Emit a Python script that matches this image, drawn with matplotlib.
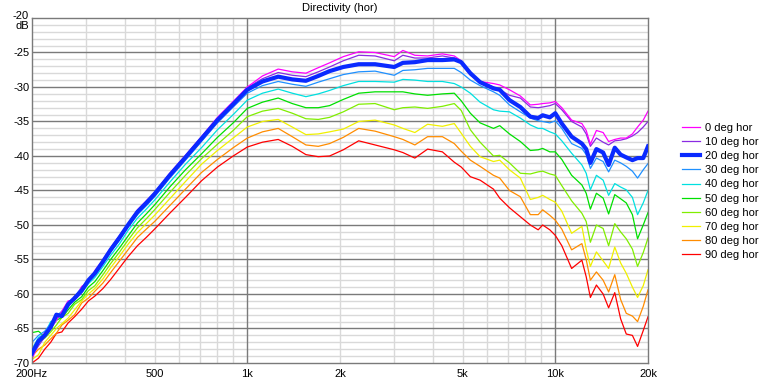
import matplotlib
matplotlib.use("Agg")
import matplotlib.pyplot as plt
from matplotlib.ticker import FixedLocator, NullLocator

plt.rcParams['font.family'] = ['Liberation Sans', 'DejaVu Sans']

freqs = [200, 210, 220, 230, 240, 250, 262, 275, 290, 305, 320, 340, 360, 385, 410, 440, 470, 500,
         560, 630, 710, 800, 900,
         1000, 1120, 1260, 1400, 1550, 1700, 1850, 2050, 2300, 2600, 3000, 3200, 3500, 3850, 4300, 4700,
         4950, 5300, 5700, 6300, 6600, 7100, 7700, 8300, 8800, 9100, 9600,
         10000, 10500, 11300, 12200, 12600, 13000, 13600, 14300, 14900, 15600, 16300, 17000, 17800,
         18500, 19300, 20000]

deg0 = [-69.5, -67.0, -65.6, -65.0, -63.8, -62.5, -61.0, -60.9, -58.9, -58.3, -56.6, -55.0, -53.3, -51.5, -49.8, -47.8, -46.5, -45.3,
        -42.5, -39.9, -37.2, -34.4, -32.1,
        -30.0, -28.4, -27.4, -27.8, -28.0, -27.2, -26.5, -25.6, -24.9, -25.0, -25.6, -24.7, -25.4, -25.5, -25.2, -25.5,
        -26.2, -28.0, -29.2, -29.5, -29.7, -30.4, -31.3, -32.6, -32.5, -32.4, -32.3,
        -32.1, -33.0, -34.8, -35.3, -36.3, -38.3, -36.3, -36.6, -37.9, -37.6, -37.4, -37.4, -36.8,
        -35.8, -34.8, -33.5]
deg10 = [-69.0, -67.5, -66.2, -64.5, -63.5, -62.8, -61.8, -60.3, -59.5, -57.9, -56.9, -55.1, -53.4, -51.6, -49.9, -47.9, -46.6, -45.4,
         -42.6, -40.0, -37.3, -34.6, -32.2,
         -30.1, -28.8, -27.9, -28.3, -28.5, -27.8, -27.1, -26.2, -25.4, -25.5, -26.2, -25.4, -25.8, -25.8, -25.5, -25.8,
         -26.6, -28.3, -29.2, -30.0, -30.4, -31.2, -31.6, -32.9, -33.0, -32.9, -32.7,
         -32.4, -33.3, -35.0, -35.8, -36.8, -38.6, -37.4, -38.0, -38.4, -37.8, -37.7, -37.5, -37.1,
         -36.6, -35.8, -35.0]
deg20 = [-68.6, -66.8, -66.0, -64.8, -63.0, -63.2, -61.5, -60.6, -59.5, -58.0, -57.0, -55.3, -53.6, -51.8, -50.0, -48.1, -46.8, -45.5,
         -42.8, -40.2, -37.5, -34.8, -32.5,
         -30.4, -29.2, -28.5, -28.9, -29.1, -28.4, -27.7, -27.1, -26.7, -26.7, -27.1, -26.5, -26.4, -26.1, -26.1, -26.0,
         -26.4, -28.0, -29.3, -30.2, -30.4, -31.9, -32.9, -34.3, -34.5, -34.1, -34.4,
         -33.8, -35.3, -37.2, -38.2, -39.0, -41.0, -39.0, -39.5, -41.3, -38.8, -39.8, -40.2, -40.6,
         -40.3, -40.3, -38.6]
deg30 = [-67.0, -66.0, -65.4, -64.3, -63.2, -62.5, -61.9, -60.4, -59.0, -58.3, -57.2, -55.6, -53.9, -52.2, -50.3, -48.5, -47.2, -45.9,
         -43.2, -40.6, -37.9, -35.2, -32.9,
         -30.9, -29.8, -29.2, -29.6, -29.9, -29.3, -28.8, -28.2, -27.8, -27.7, -28.3, -27.6, -27.5, -27.3, -27.3, -27.3,
         -27.9, -29.0, -29.8, -30.7, -31.2, -32.6, -33.6, -34.5, -34.9, -35.0, -35.2,
         -34.9, -36.0, -38.2, -38.9, -39.8, -41.8, -40.3, -40.8, -42.3, -40.6, -41.0, -41.5, -42.2,
         -43.2, -42.0, -41.1]
deg40 = [-68.0, -66.3, -65.8, -64.0, -63.7, -62.8, -61.5, -60.8, -59.8, -58.5, -57.6, -56.0, -54.4, -52.7, -50.8, -49.0, -47.7, -46.4,
         -43.8, -41.2, -38.8, -36.2, -34.0,
         -31.9, -30.9, -30.3, -30.9, -31.4, -31.0, -30.5, -29.8, -29.2, -29.2, -29.3, -28.9, -29.0, -29.2, -29.2, -29.5,
         -30.0, -30.9, -32.2, -33.3, -33.5, -33.6, -34.5, -35.5, -36.0, -36.0, -36.5,
         -36.8, -37.8, -39.6, -41.3, -42.5, -44.9, -42.8, -43.5, -45.7, -44.0, -44.5, -44.9, -46.0,
         -48.5, -46.8, -45.0]
deg50 = [-65.6, -65.4, -66.2, -65.0, -63.8, -63.4, -62.3, -61.2, -60.4, -59.0, -58.2, -56.6, -55.0, -53.3, -51.6, -49.7, -48.4, -47.1,
         -44.5, -42.0, -39.7, -37.3, -35.2,
         -33.1, -32.2, -31.6, -32.4, -33.0, -33.0, -32.7, -31.8, -30.9, -30.7, -30.7, -30.7, -31.0, -31.2, -31.0, -30.9,
         -32.0, -33.8, -35.2, -36.0, -35.6, -36.8, -37.9, -39.2, -39.1, -38.9, -39.4,
         -39.4, -40.5, -42.8, -44.2, -45.4, -47.7, -45.4, -46.1, -48.4, -45.6, -46.2, -46.8, -48.5,
         -52.0, -50.0, -48.2]
deg60 = [-68.0, -67.0, -66.4, -65.5, -64.5, -63.4, -62.8, -61.5, -60.8, -59.5, -58.8, -57.2, -55.6, -53.9, -52.2, -50.4, -49.1, -47.8,
         -45.3, -42.8, -40.4, -38.3, -36.3,
         -34.3, -33.5, -33.1, -33.8, -34.6, -34.7, -34.4, -33.6, -32.5, -32.4, -33.3, -33.0, -32.9, -33.1, -32.8, -32.4,
         -33.4, -36.2, -38.0, -40.0, -39.9, -41.0, -42.5, -42.6, -42.3, -42.2, -42.6,
         -42.8, -44.3, -46.5, -48.3, -49.5, -52.5, -50.0, -50.5, -53.0, -49.8, -51.0, -52.0, -53.5,
         -56.0, -54.0, -51.9]
deg70 = [-69.5, -68.8, -67.0, -66.0, -65.0, -64.3, -63.5, -62.3, -61.0, -60.0, -59.2, -57.8, -56.2, -54.5, -52.8, -51.1, -49.8, -48.6,
         -46.2, -43.7, -41.2, -39.2, -37.4,
         -35.8, -35.0, -34.7, -35.8, -36.9, -36.8, -36.5, -36.1, -35.0, -34.8, -35.5, -36.0, -36.6, -35.4, -35.7, -35.3,
         -36.7, -38.6, -40.1, -40.8, -40.6, -42.0, -43.2, -46.3, -46.0, -45.7, -46.3,
         -46.7, -48.0, -51.2, -50.2, -53.5, -56.0, -53.9, -55.2, -56.3, -53.2, -55.5, -57.0, -59.0,
         -60.5, -58.8, -56.5]
deg80 = [-69.0, -68.0, -67.4, -66.5, -65.7, -64.5, -63.8, -63.0, -61.3, -60.6, -59.6, -58.4, -56.9, -55.2, -53.6, -51.8, -50.6, -49.5,
         -47.2, -44.8, -42.4, -40.5, -38.8,
         -37.4, -36.5, -36.0, -37.2, -38.4, -38.6, -38.2, -37.3, -36.0, -36.4, -37.2, -37.6, -38.4, -37.2, -37.2, -38.2,
         -39.3, -40.6, -41.5, -42.8, -43.2, -45.0, -45.9, -48.5, -48.5, -47.8, -48.6,
         -49.3, -50.6, -53.6, -52.7, -55.0, -58.0, -56.8, -58.0, -59.7, -57.2, -60.8, -62.8, -63.2,
         -64.0, -61.8, -59.4]
deg90 = [-70.0, -69.3, -68.0, -67.0, -65.7, -65.5, -64.2, -63.3, -62.2, -61.0, -60.3, -59.2, -57.9, -56.2, -54.6, -53.0, -51.8, -50.6,
         -48.3, -46.0, -43.6, -41.6, -40.0,
         -38.7, -38.0, -37.6, -38.6, -39.8, -40.1, -40.0, -39.1, -37.8, -38.4, -39.1, -39.5, -40.3, -39.0, -39.4, -40.9,
         -41.6, -43.0, -43.5, -44.8, -46.1, -47.5, -48.8, -50.0, -50.7, -50.0, -50.7,
         -51.5, -53.0, -56.3, -55.1, -57.5, -60.5, -58.7, -60.0, -62.0, -59.8, -63.6, -65.8, -66.0,
         -67.6, -65.3, -63.3]

labels = ["0 deg hor", "10 deg hor", "20 deg hor", "30 deg hor", "40 deg hor",
          "50 deg hor", "60 deg hor", "70 deg hor", "80 deg hor", "90 deg hor"]
series = [deg0, deg10, deg20, deg30, deg40, deg50, deg60, deg70, deg80, deg90]
colors = ["#ff00ff", "#8a2be2", "#0a2aff", "#1e90ff", "#00e0e0",
          "#00e000", "#80ee00", "#f0f000", "#ff8c00", "#ff0000"]
widths = [0.9, 0.9, 3.0, 0.9, 0.9, 0.9, 0.9, 0.9, 0.9, 0.9]

xtick_vals = [200, 500, 1000, 2000, 5000, 10000, 20000]
xtick_labels = ["200Hz", "500", "1k", "2k", "5k", "10k", "20k"]
ytick_vals = [-20, -25, -30, -35, -40, -45, -50, -55, -60, -65, -70]

fig = plt.figure(figsize=(7.65, 3.82), dpi=100)
ax = fig.add_axes([32/765, 19/382, 616/765, 345/382])
ax.set_xscale('log')
ax.set_xlim(200, 20000)
ax.set_ylim(-70, -20)

light = "#d9d9d9"
dark = "#7a7a7a"
minor_f = [f * d for d in (100, 1000) for f in range(2, 10)] + [20000]
for f in minor_f:
    if 200 < f < 20000:
        ax.axvline(f, color=light, lw=1.0, zorder=0)
for v in range(-69, -20):
    if v % 5 != 0:
        ax.axhline(v, color=light, lw=1.0, zorder=0)
for f in (1000, 10000):
    ax.axvline(f, color=dark, lw=1.0, zorder=0.5)
for v in range(-65, -20, 5):
    ax.axhline(v, color=dark, lw=1.0, zorder=0.5)

for i in range(len(series) - 1, -1, -1):
    z = 3 if i == 2 else 2
    ax.plot(freqs, series[i], color=colors[i], lw=widths[i], label=labels[i], zorder=z,
            solid_joinstyle='round')

ax.xaxis.set_major_locator(FixedLocator(xtick_vals))
ax.xaxis.set_minor_locator(NullLocator())
ax.set_xticklabels(xtick_labels)
ax.set_yticks(ytick_vals)
ax.set_yticklabels([""] + [str(v) for v in ytick_vals[1:]])
ax.tick_params(axis='both', length=0, labelsize=8, colors='black')
ax.tick_params(axis='x', pad=4)
ax.tick_params(axis='y', pad=2)

fig.text(29/765, 1 - 16/382, "-20", ha='right', va='center', fontsize=8)
fig.text(29/765, 1 - 26/382, "dB", ha='right', va='center', fontsize=8)

for sp in ax.spines.values():
    sp.set_color(dark)
    sp.set_linewidth(1.0)

fig.text(340/765, 1 - 8/382, "Directivity (hor)", ha='center', va='center', fontsize=8)

handles, labs = ax.get_legend_handles_labels()
handles = handles[::-1]
labs = labs[::-1]
leg = fig.legend(handles, labs, loc='upper left', bbox_to_anchor=(682/765, 1 - 123/382),
                 frameon=False, fontsize=8, handlelength=1.6, handletextpad=0.45,
                 labelspacing=0.37, borderaxespad=0, borderpad=0)

fig.savefig("out.png", dpi=100)
